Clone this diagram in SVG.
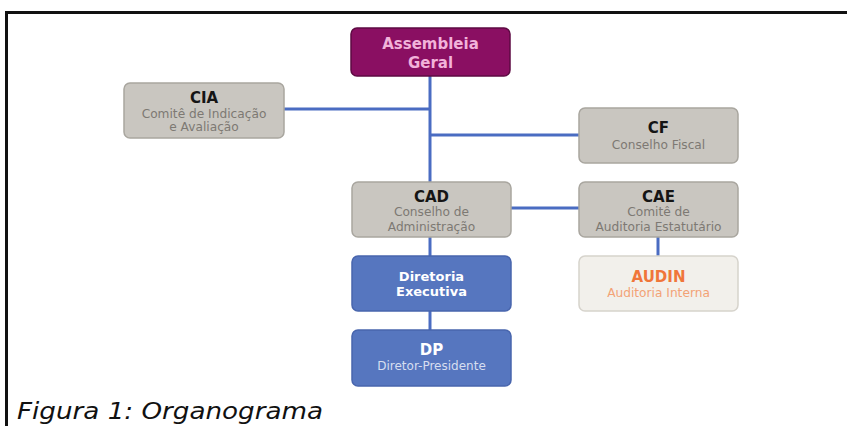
<svg xmlns="http://www.w3.org/2000/svg" width="847" height="426" viewBox="0 0 847 426">
<style>
.box{stroke-width:1.5}
.gray{fill:#c9c6c0;stroke:#a9a69f}
.purple{fill:#8a0f62;stroke:#5e0a43}
.blue{fill:#5676bf;stroke:#4865ad}
.light{fill:#f2f0eb;stroke:#d6d3cc}
.t{font-family:"DejaVu Sans","Open Sans",sans-serif;text-anchor:middle}
.title{font-weight:700;font-size:15px;fill:#151515}
.sub{font-size:12.2px;fill:#7d7973}
.ptitle{font-weight:700;font-size:15px;fill:#f2b3da}
.wtitle{font-weight:700;font-size:13px;fill:#ffffff}
.wsub{font-size:12px;fill:#d7def0}
.otitle{font-weight:700;font-size:15px;fill:#f0763a}
.osub{font-size:12.2px;fill:#f3a276}
.conn{stroke:#4a6cc2;stroke-width:3;fill:none}
</style>
<rect x="0" y="0" width="847" height="426" fill="#ffffff"/>
<g id="frame" stroke="#111" stroke-width="3" fill="none">
<path d="M6.5 426 V12.5 H847"/>
</g>
<g id="connectors">
<path class="conn" d="M430 76 V182"/>
<path class="conn" d="M284 109 H430"/>
<path class="conn" d="M430 135 H579"/>
<path class="conn" d="M511 208 H579"/>
<path class="conn" d="M658 237 V256"/>
<path class="conn" d="M430 237 V256"/>
<path class="conn" d="M430 311 V330"/>
</g>
<g id="assembleia">
<rect class="box purple" x="351" y="28" width="159" height="48" rx="6"/>
<text class="t ptitle" x="430.5" y="49">Assembleia</text>
<text class="t ptitle" x="430.5" y="68">Geral</text>
</g>
<g id="cia">
<rect class="box gray" x="124" y="83" width="160" height="55" rx="6"/>
<text class="t title" x="204" y="103">CIA</text>
<text class="t sub" x="204" y="118">Comitê de Indicação</text>
<text class="t sub" x="204" y="131">e Avaliação</text>
</g>
<g id="cf">
<rect class="box gray" x="579" y="108" width="159" height="55" rx="6"/>
<text class="t title" x="658.5" y="133">CF</text>
<text class="t sub" x="658.5" y="149">Conselho Fiscal</text>
</g>
<g id="cad">
<rect class="box gray" x="352" y="182" width="159" height="55" rx="6"/>
<text class="t title" x="431.5" y="202">CAD</text>
<text class="t sub" x="431.5" y="216">Conselho de</text>
<text class="t sub" x="431.5" y="231">Administração</text>
</g>
<g id="cae">
<rect class="box gray" x="579" y="182" width="159" height="55" rx="6"/>
<text class="t title" x="658.5" y="202">CAE</text>
<text class="t sub" x="658.5" y="216">Comitê de</text>
<text class="t sub" x="658.5" y="231">Auditoria Estatutário</text>
</g>
<g id="diretoria">
<rect class="box blue" x="352" y="256" width="159" height="55" rx="6"/>
<text class="t wtitle" x="431.5" y="281">Diretoria</text>
<text class="t wtitle" x="431.5" y="296">Executiva</text>
</g>
<g id="audin">
<rect class="box light" x="579" y="256" width="159" height="55" rx="6"/>
<text class="t otitle" x="658.5" y="282">AUDIN</text>
<text class="t osub" x="658.5" y="297">Auditoria Interna</text>
</g>
<g id="dp">
<rect class="box blue" x="352" y="330" width="159" height="56" rx="6"/>
<text class="t wtitle" x="431.5" y="355" style="font-size:15px">DP</text>
<text class="t wsub" x="431.5" y="370">Diretor-Presidente</text>
</g>
<text x="17" y="419" font-family="'DejaVu Sans','Open Sans',sans-serif" font-style="italic" font-size="23" fill="#111" textLength="306" lengthAdjust="spacingAndGlyphs">Figura 1: Organograma</text>
</svg>
